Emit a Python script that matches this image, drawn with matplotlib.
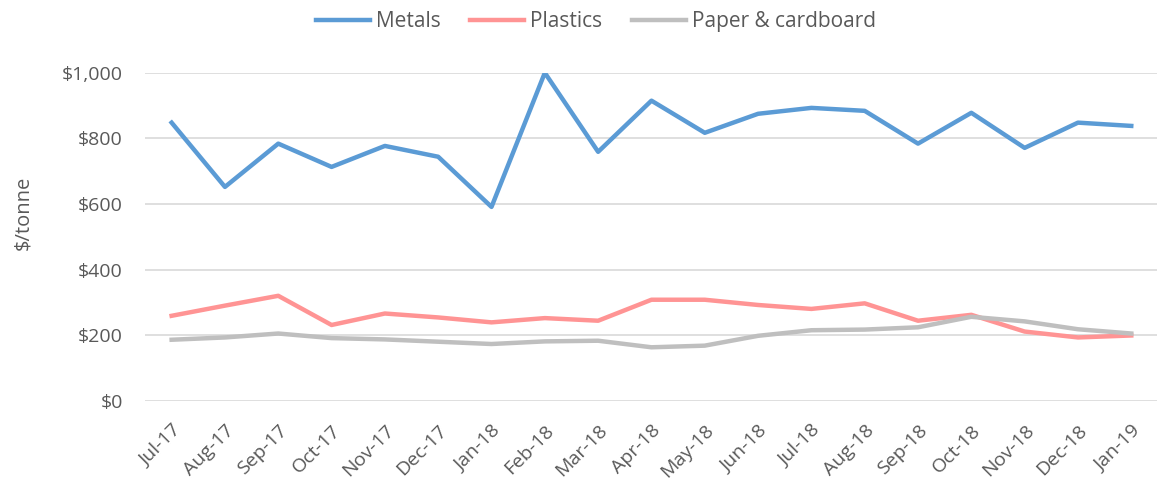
import matplotlib
matplotlib.use("Agg")
import matplotlib.pyplot as plt
from matplotlib.ticker import FuncFormatter

months = ["Jul-17", "Aug-17", "Sep-17", "Oct-17", "Nov-17", "Dec-17", "Jan-18",
          "Feb-18", "Mar-18", "Apr-18", "May-18", "Jun-18", "Jul-18", "Aug-18",
          "Sep-18", "Oct-18", "Nov-18", "Dec-18", "Jan-19"]
metals = [848, 652, 784, 713, 777, 744, 591, 1000, 759, 915, 817, 875, 893, 884,
          784, 878, 771, 848, 838]
plastics = [259, 290, 320, 231, 266, 254, 239, 252, 244, 308, 308, 292, 280, 297,
            244, 262, 211, 193, 199]
paper = [186, 193, 205, 191, 187, 180, 173, 181, 183, 163, 168, 198, 215, 217,
         224, 256, 242, 218, 205]

plt.rcParams['font.family'] = ['Open Sans', 'DejaVu Sans']
txt = '#595959'

fig = plt.figure(figsize=(11.57, 4.83), dpi=100)
ax = fig.add_axes([0.1253, 0.1703, 0.8755, 0.679])

x = list(range(len(months)))
ax.plot(x, metals, color='#5B9BD5', lw=3.2, label='Metals', solid_joinstyle='round')
ax.plot(x, plastics, color='#FF9494', lw=3.2, label='Plastics', solid_joinstyle='round')
ax.plot(x, paper, color='#BFBFBF', lw=3.2, label='Paper & cardboard', solid_joinstyle='round')

ax.set_xlim(-0.5, len(months) - 0.5)
ax.set_ylim(0, 1000)
ax.set_yticks([0, 200, 400, 600, 800, 1000])
ax.yaxis.set_major_formatter(FuncFormatter(lambda v, p: f"${v:,.0f}"))
ax.set_xticks(x)
ax.set_xticklabels(months, rotation=45, ha='right', rotation_mode='anchor')
ax.grid(axis='y', color='#D9D9D9', lw=1.2)
ax.set_axisbelow(True)
for s in ax.spines.values():
    s.set_visible(False)
ax.tick_params(length=0, colors=txt, labelsize=14)
ax.tick_params(axis='y', pad=16)
ax.tick_params(axis='x', pad=15)
ax.set_ylabel('$/tonne', color=txt, fontsize=14.5)
ax.yaxis.set_label_coords(-0.11, 0.572)

leg = ax.legend(loc='upper center', bbox_to_anchor=(0.445, 1.245), ncol=3, frameon=False,
                fontsize=15, handlelength=2.6, handletextpad=0.3, columnspacing=1.4)
for t in leg.get_texts():
    t.set_color(txt)

fig.savefig('out.png', dpi=100)
